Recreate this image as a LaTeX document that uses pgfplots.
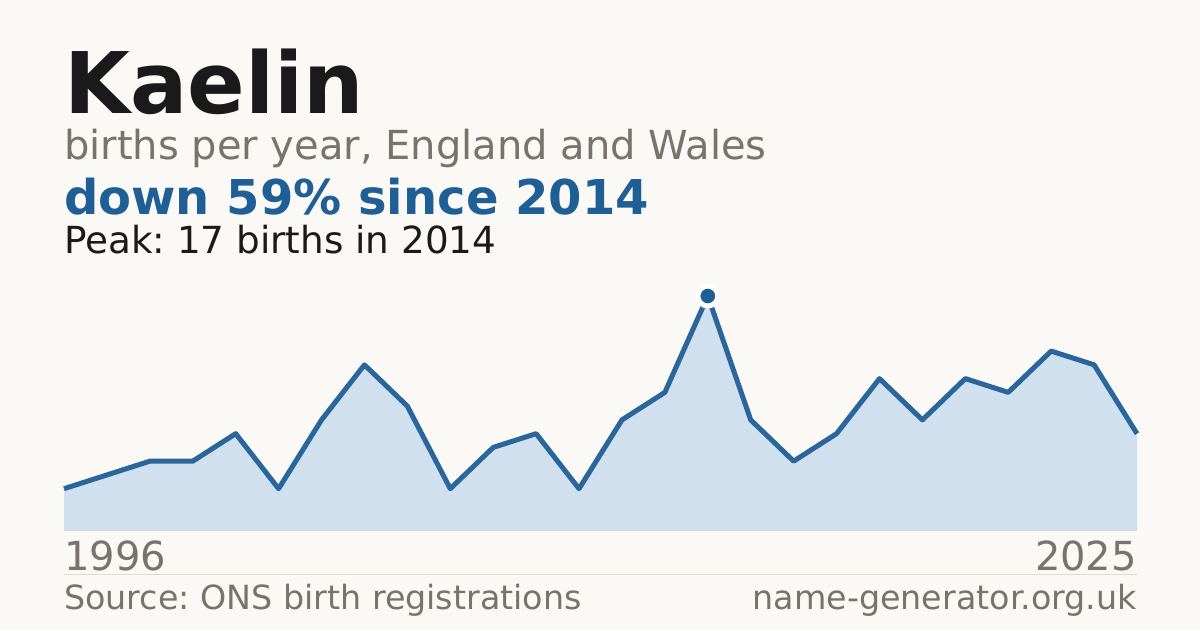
\documentclass[border=0pt]{standalone}
\usepackage{pgfplots}
\pgfplotsset{compat=1.18}
\usepackage{fontspec}
\setmainfont{DejaVu Sans}
\definecolor{bgc}{HTML}{FAF9F5}
\definecolor{ink}{HTML}{1A1A1A}
\definecolor{greytxt}{HTML}{78736C}
\definecolor{accent}{HTML}{1F5F96}
\definecolor{linec}{HTML}{2A659B}
\definecolor{areafill}{HTML}{D0E0EF}
\definecolor{rule}{HTML}{E0DBD2}

\begin{document}
\frenchspacing
\begin{tikzpicture}
  % canvas: 1 px of the reference = 1 pt, y measured downward
  \fill[bgc] (0pt,0pt) rectangle (1200pt,-630pt);
  \useasboundingbox (0pt,0pt) rectangle (1200pt,-630pt);

  \node[anchor=base west, inner sep=0pt, text=ink] at (64pt,-113pt)
    {\fontsize{85}{96}\selectfont\bfseries Kaelin};
  \node[anchor=base west, inner sep=0pt, text=greytxt] at (64pt,-159pt)
    {\fontsize{40}{46}\selectfont births per year, England and Wales};
  \node[anchor=base west, inner sep=0pt, text=accent] at (64pt,-214pt)
    {\fontsize{48}{54}\selectfont\bfseries down 59\% since 2014};
  \node[anchor=base west, inner sep=0pt, text=ink] at (64pt,-253pt)
    {\fontsize{37.3}{42}\selectfont Peak: 17 births in 2014};

  \begin{axis}[
    at={(64pt,-530pt)}, anchor=south west,
    width=1073pt, height=234pt, scale only axis,
    xmin=0, xmax=25, ymin=0, ymax=17,
    hide axis, clip=false,
    ]
    \addplot[draw=none, fill=areafill] coordinates {
      (0,3) (1,4) (2,5) (3,5) (4,7) (5,3) (6,8) (7,12) (8,9) (9,3)
      (10,6) (11,7) (12,3) (13,8) (14,10) (15,17) (16,8) (17,5) (18,7)
      (19,11) (20,8) (21,11) (22,10) (23,13) (24,12) (25,7)
    } \closedcycle;
    \addplot[linec, line width=5pt, line join=round] coordinates {
      (0,3) (1,4) (2,5) (3,5) (4,7) (5,3) (6,8) (7,12) (8,9) (9,3)
      (10,6) (11,7) (12,3) (13,8) (14,10) (15,17) (16,8) (17,5) (18,7)
      (19,11) (20,8) (21,11) (22,10) (23,13) (24,12) (25,7)
    };
    \addplot[only marks, mark=*, mark size=10pt,
      mark options={fill=accent, draw=white, line width=5pt}]
      coordinates {(15,17)};
  \end{axis}

  \draw[rule, line width=1pt] (64pt,-530.5pt) -- (1137pt,-530.5pt);

  \node[anchor=base west, inner sep=0pt, text=greytxt] at (64pt,-570pt)
    {\fontsize{40}{46}\selectfont 1996};
  \node[anchor=base east, inner sep=0pt, text=greytxt] at (1137pt,-570pt)
    {\fontsize{40}{46}\selectfont 2025};
  \draw[rule, line width=1pt] (64pt,-574.5pt) -- (1137pt,-574.5pt);
  \node[anchor=base west, inner sep=0pt, text=greytxt] at (64pt,-609pt)
    {\fontsize{33.3}{38}\selectfont Source: ONS birth registrations};
  \node[anchor=base east, inner sep=0pt, text=greytxt] at (1137pt,-609pt)
    {\fontsize{33.3}{38}\selectfont name-generator.org.uk};
\end{tikzpicture}
\end{document}
